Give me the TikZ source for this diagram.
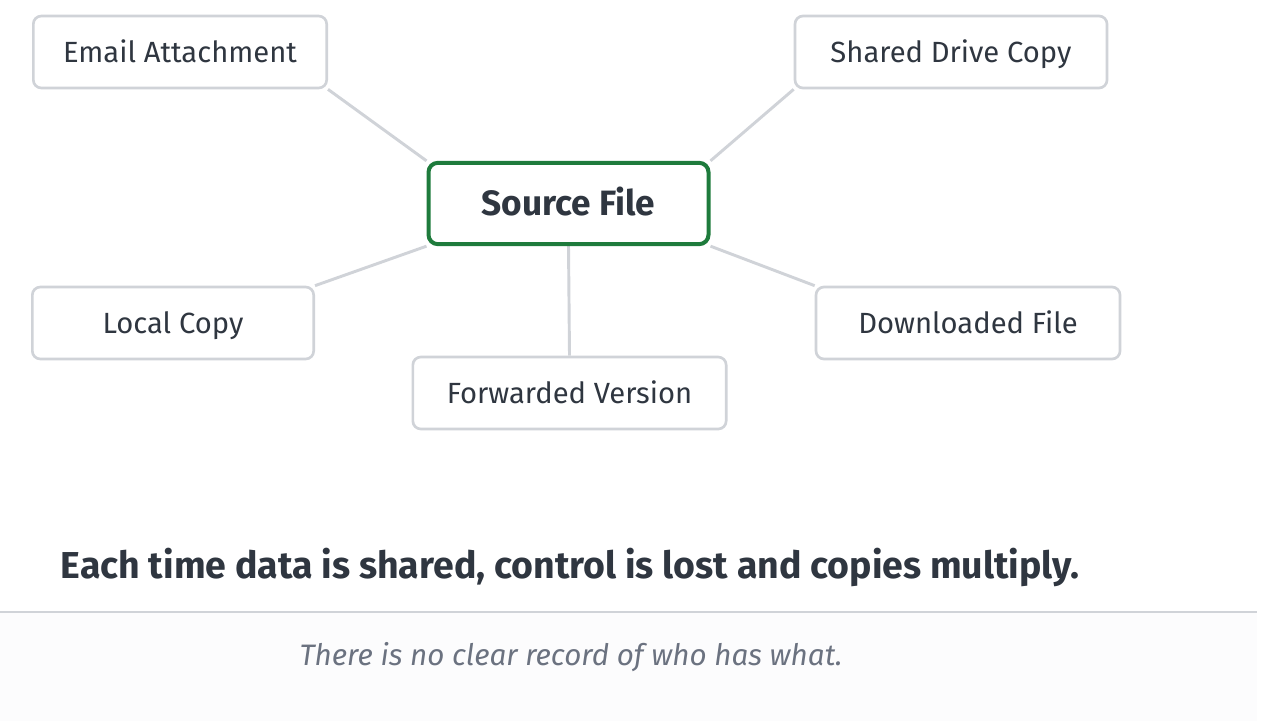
\documentclass[tikz,border=0pt]{standalone}
\usepackage{fontspec}
\setmainfont{Fira Sans}
\usetikzlibrary{positioning, backgrounds}
\definecolor{ink}{HTML}{2F3640}
\definecolor{edge}{HTML}{D0D3D8}
\definecolor{green}{HTML}{1E7B3C}
\definecolor{muted}{HTML}{6B7280}
\definecolor{foot}{HTML}{FCFCFD}
\tikzset{
  copy/.style={draw=edge, line width=2pt, rounded corners=6pt, fill=white,
    text=ink, font=\fontsize{21.9}{26}\selectfont, minimum height=54pt, inner sep=0pt,
    text height=16pt, text depth=1pt},
  source/.style={draw=green, line width=3pt, rounded corners=7pt, fill=white,
    text=ink, font=\fontsize{26.4}{30}\selectfont\bfseries, minimum width=210pt, minimum height=61pt,
    inner sep=0pt, text height=19.5pt, text depth=1pt},
  link/.style={edge, line width=2.2pt}
}

\begin{document}
\begin{tikzpicture}[x=0.75pt, y=-0.75pt]
    \useasboundingbox (0,0) rectangle (1277,721);
    \fill[foot] (0,612) rectangle (1257,721);
    \draw[edge, line width=1.2pt] (0,612) -- (1257,612);

    \node [source] (src) at (568.5,203.5) {Source File};
    \node [copy, minimum width=220pt] (email) at (180,52) {Email Attachment};
    \node [copy, minimum width=234pt] (drive) at (951,52) {Shared Drive Copy};
    \node [copy, minimum width=211pt] (local) at (173,323) {Local Copy};
    \node [copy, minimum width=228pt] (down) at (968,323) {Downloaded File};
    \node [copy, minimum width=235pt] (fwd) at (569.5,393) {Forwarded Version};

    \begin{scope}[on background layer]
    \draw[link] (email.south east) -- (src.north west);
    \draw[link] (drive.south west) -- (src.north east);
    \draw[link] (local.north east) -- (src.south west);
    \draw[link] (down.north west) -- (src.south east);
    \draw[link] (fwd.north) -- (src.south);
    \end{scope}

    \node [anchor=west, text=ink, font=\fontsize{28.1}{33}\selectfont\bfseries] (msg) at (56,567)
        {Each time data is shared, control is lost and copies multiply.};
    \node [text=muted, font=\fontsize{22.2}{26}\selectfont\itshape] (note) at (571,657)
        {There is no clear record of who has what.};
\end{tikzpicture}
\end{document}
